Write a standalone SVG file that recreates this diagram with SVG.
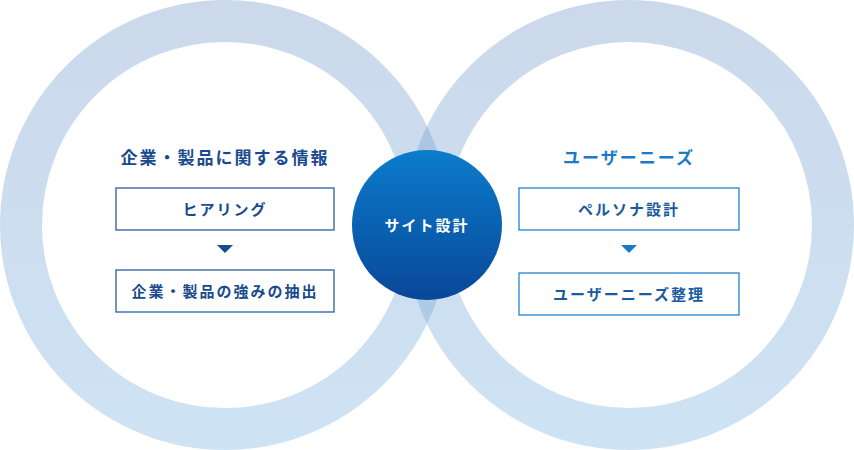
<svg xmlns="http://www.w3.org/2000/svg" width="854" height="450" viewBox="0 0 854 450">
<defs>
<linearGradient id="ring" x1="0" y1="0" x2="0" y2="1">
<stop offset="0" stop-color="#6f95c8"/>
<stop offset="1" stop-color="#76b0de"/>
</linearGradient>
<linearGradient id="hub" x1="0" y1="0" x2="0" y2="1">
<stop offset="0" stop-color="#0b7ccb"/>
<stop offset="1" stop-color="#0a4798"/>
</linearGradient>
<style>
.ring{fill:none;stroke:url(#ring);stroke-width:42;opacity:0.36}
.t{font-family:"Noto Sans CJK JP",sans-serif;font-weight:bold;text-anchor:middle;letter-spacing:2px}
.title{font-size:17px}
.lbl{font-size:15px}
.boxL{fill:#fff;stroke:#2a5fa8;stroke-width:1.3}
.boxR{fill:#fff;stroke:#2285cf;stroke-width:1.3}
</style>
</defs>
<g id="rings">
<circle class="ring" cx="225" cy="225" r="204"/>
<circle class="ring" cx="629" cy="225" r="204"/>
</g>
<g id="connectors">
<polygon points="217,245 233,245 225,253" fill="#1a4a8e"/>
<polygon points="621,245 637,245 629,253" fill="#1a7ac8"/>
</g>
<g id="hub">
<circle cx="427" cy="225" r="75" fill="url(#hub)"/>
<text class="t lbl" x="427" y="231" fill="#fff">サイト設計</text>
</g>
<g id="left-title"><text class="t title" x="225" y="164" fill="#1a4a8e">企業・製品に関する情報</text></g>
<g id="hearing"><rect class="boxL" x="116" y="188" width="218" height="42"/><text class="t lbl" x="225" y="215" fill="#1a4a8e">ヒアリング</text></g>
<g id="strength"><rect class="boxL" x="116" y="270" width="218" height="42"/><text class="t lbl" x="225" y="297" fill="#1a4a8e">企業・製品の強みの抽出</text></g>
<g id="right-title"><text class="t title" x="629" y="164" fill="#1a7ac8">ユーザーニーズ</text></g>
<g id="persona"><rect class="boxR" x="519" y="188" width="220" height="42"/><text class="t lbl" x="629" y="215" fill="#1a5a9e">ペルソナ設計</text></g>
<g id="needs"><rect class="boxR" x="519" y="273" width="220" height="42"/><text class="t lbl" x="629" y="300" fill="#1a5a9e">ユーザーニーズ整理</text></g>
</svg>
